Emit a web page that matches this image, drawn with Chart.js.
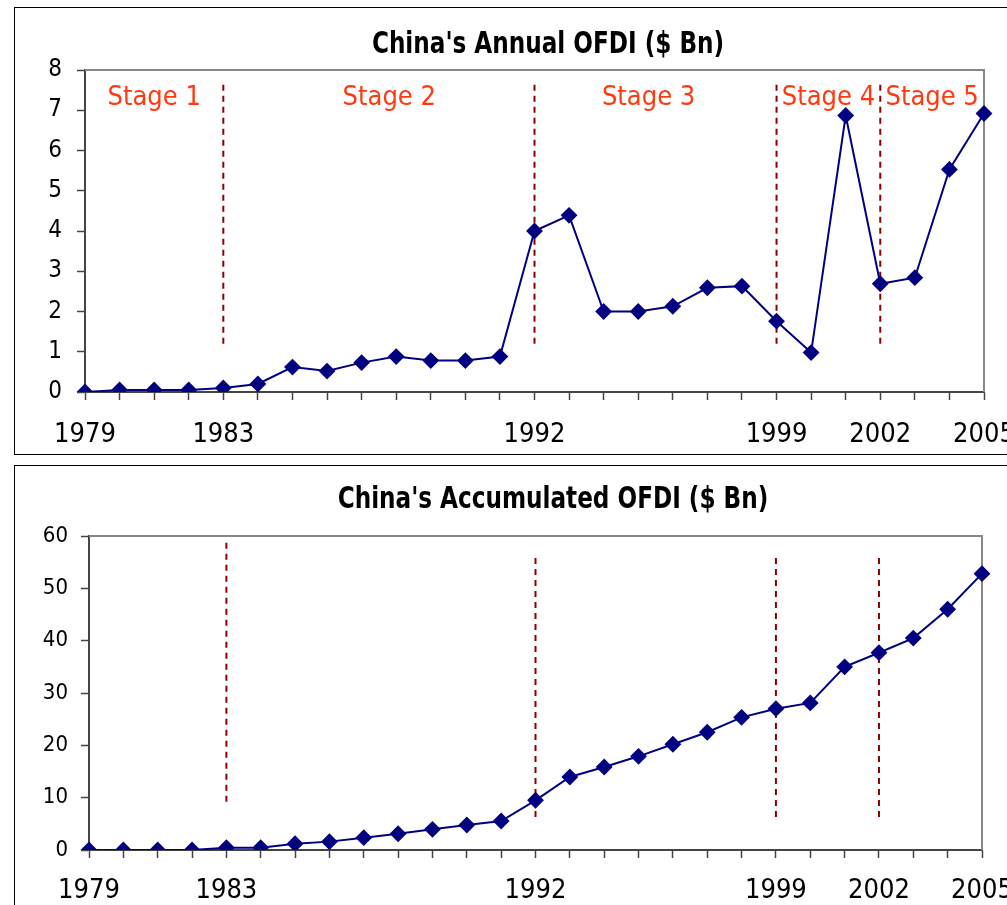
<!DOCTYPE html>
<html>
<head>
<meta charset="utf-8">
<script src="https://cdn.jsdelivr.net/npm/chart.js@4"></script>
<style>
  body { margin: 0; background: #fff; width: 1007px; height: 905px; overflow: hidden; position: relative; }
  .box { position: absolute; border: 1px solid #000; }
  #box1 { left: 14px; top: 7px; width: 1010px; height: 446px; }
  #box2 { left: 14px; top: 465px; width: 1010px; height: 460px; }
  canvas { position: absolute; left: 0; }
  #annual { top: 0; }
  #accum { top: 460px; }
  .title {
    position: absolute; width: 600px; text-align: center; white-space: nowrap;
    font-family: "DejaVu Sans Condensed", "Noto Sans", sans-serif; font-weight: bold; font-size: 31px;
    line-height: 36px; color: #000; transform: scaleX(0.83);
  }
  #title1 { left: 248px; top: 24px; }
  #title2 { left: 253px; top: 479px; }
</style>
</head>
<body>
<div class="box" id="box1"></div>
<div class="box" id="box2"></div>
<canvas id="annual" width="1007" height="460"></canvas>
<canvas id="accum" width="1007" height="445"></canvas>
<div class="title" id="title1">China's Annual OFDI ($ Bn)</div>
<div class="title" id="title2">China's Accumulated OFDI ($ Bn)</div>
<script>
const years = ['1979','1980','1981','1982','1983','1984','1985','1986','1987','1988','1989','1990','1991',
  '1992','1993','1994','1995','1996','1997','1998','1999','2000','2001','2002','2003','2004','2005'];
const labelledYears = ['1979', '1983', '1992', '1999', '2002', '2005'];

const annualOfdi = [0, 0.05, 0.05, 0.05, 0.1, 0.2, 0.62, 0.52, 0.73, 0.88, 0.78, 0.78, 0.88,
  4.0, 4.39, 2.0, 2.0, 2.13, 2.59, 2.63, 1.76, 0.98, 6.87, 2.69, 2.84, 5.53, 6.92];
const accumOfdi = [0, 0, 0, 0, 0.45, 0.45, 1.2, 1.6, 2.36, 3.1, 3.95, 4.78, 5.54,
  9.5, 13.95, 15.86, 17.9, 20.2, 22.5, 25.35, 27.0, 28.1, 35.0, 37.7, 40.5, 46.0, 52.8];

const stageYears = ['1983', '1992', '1999', '2002'];
const annualStageSpan = [1.2, 7.7];
const accumStageSpans = [[9.2, 59], [6.3, 55.8], [6.3, 55.8], [6.3, 55.8]];
const stageNames = ['Stage 1', 'Stage 2', 'Stage 3', 'Stage 4', 'Stage 5'];
const stageCenters = [2.0, 8.8, 16.3, 21.5, 24.5]; // category index positions
const stageLabelValue = 7.3;

const FONT = '"DejaVu Sans Condensed", "Noto Sans", sans-serif';

function stageLines(spans) {
  return stageYears.map((yr, i) => {
    const s = Array.isArray(spans[0]) ? spans[i] : spans;
    return {
      type: 'line',
      data: [{x: yr, y: s[0]}, {x: yr, y: s[1]}],
      borderColor: '#8B0000',
      borderWidth: 2,
      borderDash: [6, 5],
      pointRadius: 0,
      fill: false
    };
  });
}

const plotFrame = {
  id: 'plotFrame',
  beforeDatasetsDraw(chart) {
    const {ctx, chartArea} = chart;
    ctx.save();
    ctx.strokeStyle = '#888';
    ctx.lineWidth = 2;
    ctx.beginPath();
    ctx.moveTo(chartArea.left, chartArea.top);
    ctx.lineTo(chartArea.right, chartArea.top);
    ctx.lineTo(chartArea.right, chartArea.bottom);
    ctx.stroke();
    ctx.restore();
  }
};

const stageText = {
  id: 'stageText',
  afterDraw(chart) {
    if (!chart.options.plugins.stageText.show) return;
    const {ctx, scales} = chart;
    ctx.save();
    ctx.fillStyle = '#FF3A12';
    ctx.font = '27px ' + FONT;
    ctx.textAlign = 'center';
    ctx.textBaseline = 'middle';
    stageNames.forEach((name, i) => {
      ctx.fillText(name, scales.x.getPixelForValue(stageCenters[i]), scales.y.getPixelForValue(stageLabelValue));
    });
    ctx.restore();
  }
};

function makeChart(id, values, yMax, yStep, spans, opts) {
  return new Chart(document.getElementById(id), {
    type: 'line',
    data: {
      labels: years,
      datasets: [{
        data: values,
        borderColor: '#000080',
        backgroundColor: '#000080',
        borderWidth: 2,
        pointStyle: 'rectRot',
        pointRadius: 7,
        pointHoverRadius: 7,
        tension: 0
      }].concat(stageLines(spans))
    },
    options: {
      responsive: false,
      animation: false,
      layout: { padding: { left: 0, right: opts.right, top: opts.top, bottom: 0 } },
      plugins: {
        legend: { display: false },
        tooltip: { enabled: false },
        title: { display: false },
        stageText: { show: opts.stages }
      },
      scales: {
        x: {
          type: 'category',
          grid: { drawOnChartArea: false, drawTicks: true, tickLength: 8, tickColor: '#444', tickWidth: 1.5 },
          border: { color: '#444', width: 2 },
          ticks: {
            autoSkip: false,
            maxRotation: 0,
            padding: opts.xPad,
            color: '#000',
            font: { family: FONT, size: 27 },
            callback: function (v) {
              const lbl = this.getLabelForValue(v);
              return labelledYears.includes(lbl) ? lbl : '';
            }
          },
          afterFit(scale) {
            scale.height = opts.xHeight;
            scale.paddingLeft = 0;
            scale.paddingRight = 0;
          }
        },
        y: {
          min: 0,
          max: yMax,
          grid: { drawOnChartArea: false, drawTicks: true, tickLength: 8, tickColor: '#444', tickWidth: 1.5 },
          border: { color: '#444', width: 2 },
          ticks: {
            stepSize: yStep,
            padding: opts.yPad,
            color: '#000',
            font: { family: FONT, size: opts.ySize }
          },
          afterFit(scale) {
            scale.width = opts.yWidth;
          }
        }
      }
    },
    plugins: [plotFrame, stageText]
  });
}

makeChart('annual', annualOfdi, 8, 1, annualStageSpan,
  { right: 23, top: 70, xPad: 19, xHeight: 68, yPad: 15, yWidth: 85, ySize: 24, stages: true });
makeChart('accum', accumOfdi, 60, 10, accumStageSpans,
  { right: 25, top: 76, xPad: 17, xHeight: 55, yPad: 13, yWidth: 89, ySize: 22, stages: false });
</script>
</body>
</html>
